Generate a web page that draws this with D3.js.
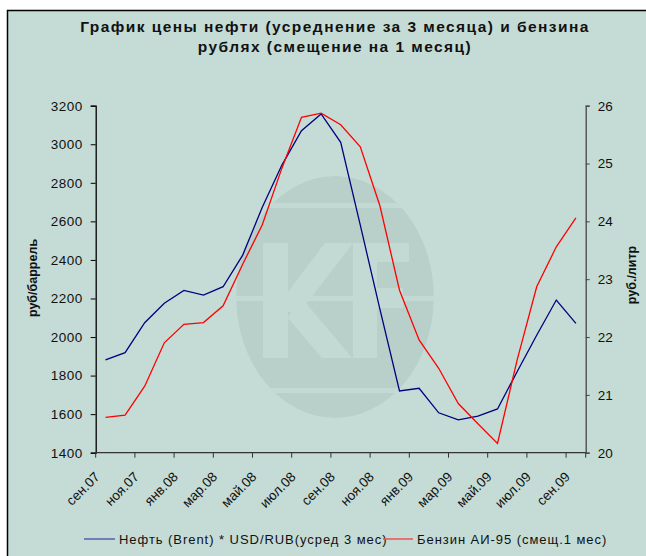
<!DOCTYPE html>
<html><head><meta charset="utf-8">
<script src="https://cdn.jsdelivr.net/npm/d3@7"></script>
<style>
html,body{margin:0;padding:0;background:#fff;}
svg{display:block;font-family:Arial,"Liberation Sans",sans-serif;}
</style></head>
<body>
<script>
const months = ['сен.07','окт.07','ноя.07','дек.07','янв.08','фев.08','мар.08','апр.08','май.08','июн.08','июл.08','авг.08','сен.08','окт.08','ноя.08','дек.08','янв.09','фев.09','мар.09','апр.09','май.09','июн.09','июл.09','авг.09','сен.09'];
const oilRub = [1881,1919,2074,2175,2242,2218,2261,2425,2673,2892,3070,3157,3010,2580,2145,1720,1734,1607,1570,1590,1627,1820,2009,2192,2071];
const petrol95 = [20.61,20.65,21.15,21.90,22.22,22.25,22.54,23.26,23.94,24.92,25.80,25.87,25.67,25.29,24.27,22.81,21.95,21.46,20.85,20.50,20.16,21.60,22.87,23.56,24.06];
const leftTicks = [1400,1600,1800,2000,2200,2400,2600,2800,3000,3200];
const rightTicks = [20,21,22,23,24,25,26];
const titleLines = ['График цены нефти (усреднение за 3 месяца) и бензина','рублях (смещение на 1 месяц)'];
const leftTitle = 'руб/баррель';
const rightTitle = 'руб./литр';
const legendNames = ['Нефть (Brent) * USD/RUB(усред 3 мес)','Бензин АИ-95 (смещ.1 мес)'];

const W=646,H=556;
const bg='#C5DCD6';
const svg=d3.select('body').append('svg').attr('width',W).attr('height',H);
svg.append('rect').attr('x',0).attr('y',0).attr('width',W).attr('height',H).attr('fill','#fff');
svg.append('rect').attr('x',7).attr('y',10).attr('width',W).attr('height',H).attr('fill',bg);
svg.append('path').attr('d','M7.5,'+H+'V10.5H'+W).attr('fill','none').attr('stroke','#000').attr('stroke-width',1.5);

// watermark
const wm=svg.append('g');
const defs=svg.append('defs');
defs.append('clipPath').attr('id','ell').append('ellipse').attr('cx',335).attr('cy',297).attr('rx',99).attr('ry',121);
const wmg=wm.append('g').attr('clip-path','url(#ell)');
wmg.append('ellipse').attr('cx',335).attr('cy',297).attr('rx',99).attr('ry',121).attr('fill','#B9D0CA');
const light='#C3DAD4';
[[203,5],[296,5],[388,5]].forEach(s=>wmg.append('rect').attr('x',230).attr('y',s[0]).attr('width',210).attr('height',s[1]).attr('fill',light));
wmg.append('rect').attr('x',263).attr('y',243).attr('width',25).attr('height',115).attr('fill',light);
wmg.append('polygon').attr('points','288,292 325,243 353,243 300,312 288,312').attr('fill',light);
wmg.append('polygon').attr('points','300,296 352,358 322,358 288,318').attr('fill',light);
wmg.append('rect').attr('x',353).attr('y',243).attr('width',24).attr('height',115).attr('fill',light);
wmg.append('rect').attr('x',353).attr('y',243).attr('width',56).attr('height',19).attr('fill',light);
wmg.append('rect').attr('x',353).attr('y',288).attr('width',50).attr('height',20).attr('fill',light);

// scales
const x0=95.7,x1=585.7,yT=105.7,yB=452.7;
const x=d3.scaleBand().domain(months).range([x0,x1]).padding(0);
const cx=d=>x(d)+x.bandwidth()/2;
const yL=d3.scaleLinear().domain([1400,3200]).range([yB,yT]);
const yR=d3.scaleLinear().domain([20,26]).range([yB,yT]);

// title
const t=svg.append('text').attr('text-anchor','middle').attr('font-weight','bold').attr('font-size',15.5).attr('fill','#111');
t.append('tspan').attr('x',335).attr('y',32).attr('letter-spacing',1.45).text(titleLines[0]);
t.append('tspan').attr('x',335).attr('y',52).attr('letter-spacing',1.45).text(titleLines[1]);

// axes
const fs=13.5;
const gl=svg.append('g').attr('transform',`translate(${x0},0)`).call(d3.axisLeft(yL).tickValues(leftTicks).tickSize(5).tickPadding(8).tickFormat(d3.format('d')));
gl.select('.domain').attr('stroke','#000').attr('stroke-width',1.3);
gl.selectAll('.tick line').attr('stroke','#000');
gl.selectAll('text').attr('font-size',fs).attr('font-family','Arial,"Liberation Sans",sans-serif').attr('fill','#111').attr('letter-spacing',0.5);

const gr=svg.append('g').attr('transform',`translate(${x1},0)`).call(d3.axisRight(yR).tickValues(rightTicks).tickSize(4).tickPadding(8).tickFormat(d3.format('d')));
gr.select('.domain').attr('stroke','#444').attr('stroke-width',1.3);
gr.selectAll('.tick line').attr('stroke','#444');
gr.selectAll('text').attr('font-size',fs).attr('font-family','Arial,"Liberation Sans",sans-serif').attr('fill','#111');

const gb=svg.append('g').attr('transform',`translate(0,${yB})`);
gb.append('line').attr('x1',x0).attr('x2',x1).attr('y1',0).attr('y2',0).attr('stroke','#333').attr('stroke-width',1.3);
const tickPos=months.filter((d,i)=>i%2===0).map(d=>x(d)).concat([x1]);
gb.selectAll('line.tk').data(tickPos).join('line').attr('class','tk').attr('x1',d=>d).attr('x2',d=>d).attr('y1',0).attr('y2',5).attr('stroke','#333');
gb.selectAll('text.lb').data(months.filter((d,i)=>i%2===0)).join('text').attr('class','lb')
  .attr('transform',d=>`translate(${cx(d)-5},25) rotate(-45)`).attr('text-anchor','end')
  .attr('font-size',13.5).attr('fill','#111').text(d=>d);

// axis titles
svg.append('text').attr('transform','translate(37,278) rotate(-90)').attr('text-anchor','middle').attr('font-weight','bold').attr('font-size',12.5).attr('fill','#111').text(leftTitle);
svg.append('text').attr('transform','translate(636,275) rotate(-90)').attr('text-anchor','middle').attr('font-weight','bold').attr('font-size',12.5).attr('fill','#111').text(rightTitle);

// lines
const lineL=d3.line().x((d,i)=>cx(months[i])).y(d=>yL(d));
const lineR=d3.line().x((d,i)=>cx(months[i])).y(d=>yR(d));
svg.append('path').datum(oilRub).attr('d',lineL).attr('fill','none').attr('stroke','#000080').attr('stroke-width',1.3);
svg.append('path').datum(petrol95).attr('d',lineR).attr('fill','none').attr('stroke','#FF0000').attr('stroke-width',1.3);

// legend
defs.append('clipPath').attr('id','lg').append('rect').attr('x',0).attr('y',500).attr('width',606).attr('height',56);
const lg=svg.append('g').attr('clip-path','url(#lg)');
lg.append('line').attr('x1',84).attr('x2',115).attr('y1',539).attr('y2',539).attr('stroke','#5060B0').attr('stroke-width',1.5);
lg.append('text').attr('x',119).attr('y',544).attr('font-size',13).attr('letter-spacing',0.95).attr('fill','#111').text(legendNames[0]);
lg.append('line').attr('x1',383).attr('x2',413).attr('y1',539).attr('y2',539).attr('stroke','#F05050').attr('stroke-width',1.5);
lg.append('text').attr('x',417).attr('y',544).attr('font-size',13).attr('letter-spacing',0.95).attr('fill','#111').text(legendNames[1]);
</script>
</body></html>
